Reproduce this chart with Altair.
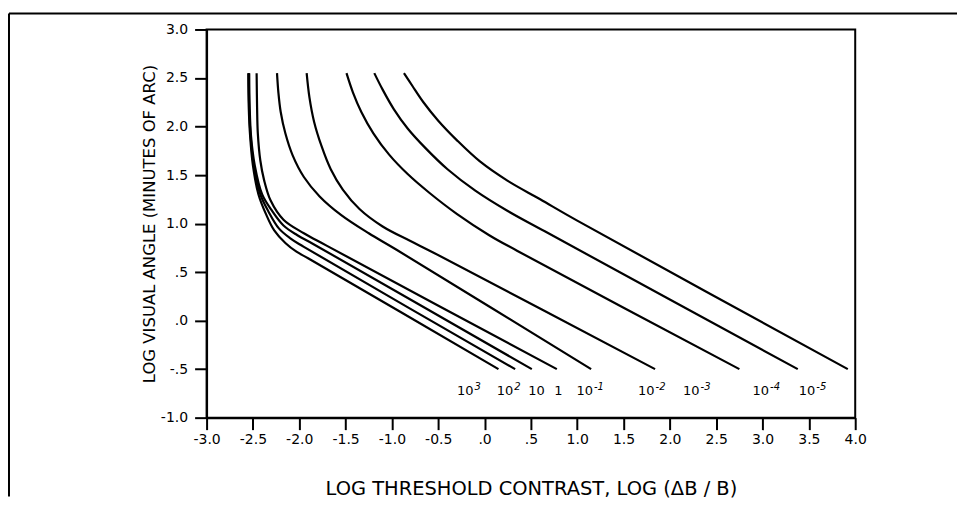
import altair as alt
import pandas as pd

curve_names = ["10^3", "10^2", "10", "1", "10^-1", "10^-2", "10^-3", "10^-4", "10^-5"]
label_base = ["10", "10", "10", "1", "10", "10", "10", "10", "10"]
label_exp = ["3", "2", "", "", "-1", "-2", "-3", "-4", "-5"]
label_x = [-0.12, 0.31, 0.65, 0.84, 1.17, 1.835, 2.32, 3.07, 3.57]
label_y = [-0.77, -0.77, -0.77, -0.77, -0.77, -0.77, -0.77, -0.77, -0.77]

c_1e3_x = [-2.55, -2.545, -2.53, -2.50, -2.44, -2.36, -2.27, -2.15, -2.03, -1.90, 0.15]
c_1e3_y = [2.55, 2.20, 1.90, 1.60, 1.30, 1.10, 0.93, 0.80, 0.71, 0.64, -0.50]

c_1e2_x = [-2.545, -2.54, -2.525, -2.49, -2.42, -2.33, -2.22, -2.10, -1.95, 0.33]
c_1e2_y = [2.55, 2.20, 1.90, 1.60, 1.30, 1.12, 0.95, 0.85, 0.76, -0.50]

c_1e1_x = [-2.54, -2.535, -2.52, -2.48, -2.40, -2.30, -2.17, -2.02, -1.85, 0.51]
c_1e1_y = [2.55, 2.20, 1.90, 1.60, 1.30, 1.14, 0.98, 0.88, 0.79, -0.50]

c_1e0_x = [-2.46, -2.455, -2.447, -2.42, -2.38, -2.31, -2.17, -1.95, -1.70, 0.78]
c_1e0_y = [2.55, 2.20, 1.93, 1.65, 1.45, 1.24, 1.04, 0.90, 0.77, -0.50]

c_1em1_x = [-2.24, -2.225, -2.20, -2.15, -2.07, -1.95, -1.78, -1.55, -1.25, -0.95, 1.15]
c_1em1_y = [2.55, 2.35, 2.15, 1.93, 1.70, 1.48, 1.28, 1.09, 0.90, 0.73, -0.50]

c_1em2_x = [-1.92, -1.89, -1.84, -1.76, -1.66, -1.53, -1.35, -1.10, -0.80, -0.55, 1.84]
c_1em2_y = [2.55, 2.30, 2.05, 1.80, 1.56, 1.35, 1.15, 0.97, 0.82, 0.70, -0.50]

c_1em3_x = [-1.49, -1.42, -1.33, -1.20, -1.03, -0.83, -0.60, -0.30, 0.05, 0.35, 2.75]
c_1em3_y = [2.55, 2.35, 2.15, 1.93, 1.71, 1.51, 1.32, 1.10, 0.88, 0.72, -0.50]

c_1em4_x = [-1.19, -1.10, -0.98, -0.83, -0.64, -0.40, -0.10, 0.25, 0.65, 3.38]
c_1em4_y = [2.55, 2.38, 2.18, 1.98, 1.78, 1.56, 1.34, 1.13, 0.92, -0.50]

c_1em5_x = [-0.87, -0.78, -0.66, -0.50, -0.30, -0.05, 0.25, 0.60, 1.00, 3.92]
c_1em5_y = [2.55, 2.42, 2.25, 2.06, 1.86, 1.64, 1.44, 1.25, 1.03, -0.50]

curves_x = [c_1e3_x, c_1e2_x, c_1e1_x, c_1e0_x, c_1em1_x, c_1em2_x, c_1em3_x, c_1em4_x, c_1em5_x]
curves_y = [c_1e3_y, c_1e2_y, c_1e1_y, c_1e0_y, c_1em1_y, c_1em2_y, c_1em3_y, c_1em4_y, c_1em5_y]

x_ticks = [-3.0, -2.5, -2.0, -1.5, -1.0, -0.5, 0.0, 0.5, 1.0, 1.5, 2.0, 2.5, 3.0, 3.5, 4.0]
y_ticks = [-1.0, -0.5, 0.0, 0.5, 1.0, 1.5, 2.0, 2.5, 3.0]

rows = []
for name, xs_, ys_ in zip(curve_names, curves_x, curves_y):
    for i, (xv, yv) in enumerate(zip(xs_, ys_)):
        rows.append({"curve": name, "i": i, "x": xv, "y": yv})
df = pd.DataFrame(rows)
lab = pd.DataFrame({"curve": curve_names, "base": label_base, "exp": label_exp,
                    "x": label_x, "y": label_y})

FONT = "DejaVu Sans"
xs = alt.Scale(domain=[-3, 4], nice=False, zero=False)
ys = alt.Scale(domain=[-1, 3], nice=False, zero=False)

x_axis = alt.Axis(
    values=x_ticks,
    labelExpr="datum.value == 0 ? '.0' : datum.value == 0.5 ? '.5' : (datum.value < 0 ? '-' : '') + format(abs(datum.value), '.1f')",
    title="LOG THRESHOLD CONTRAST, LOG (ΔB / B)",
    grid=False, tickSize=12, tickWidth=2, domainWidth=2, domainColor="black", tickColor="black",
    labelFont=FONT, labelFontSize=14, labelColor="black", labelPadding=3, labelFlush=False,
    titleFont=FONT, titleFontSize=19.5, titleFontWeight="normal", titleColor="black", titlePadding=33,
)
y_axis = alt.Axis(
    values=y_ticks,
    labelExpr="datum.value == 0 ? '.0' : datum.value == 0.5 ? '.5' : datum.value == -0.5 ? '-.5' : (datum.value < 0 ? '-' : '') + format(abs(datum.value), '.1f')",
    title="LOG VISUAL ANGLE (MINUTES OF ARC)",
    grid=False, tickSize=12, tickWidth=2, domainWidth=2, domainColor="black", tickColor="black",
    labelFont=FONT, labelFontSize=14, labelColor="black", labelPadding=7, labelFlush=False,
    titleFont=FONT, titleFontSize=16.5, titleFontWeight="normal", titleColor="black", titlePadding=3,
)

lines = alt.Chart(df).mark_line(color="black", strokeWidth=2.2, interpolate="catmull-rom").encode(
    x=alt.X("x:Q", scale=xs, axis=x_axis),
    y=alt.Y("y:Q", scale=ys, axis=y_axis),
    detail="curve:N",
    order="i:Q",
)

base_text = alt.Chart(lab).mark_text(font=FONT, fontSize=13, color="black",
                                     align="right", baseline="alphabetic").encode(
    x=alt.X("x:Q", scale=xs),
    y=alt.Y("y:Q", scale=ys),
    text="base:N",
)
exp_text = alt.Chart(lab).mark_text(font=FONT, fontSize=10, fontStyle="italic", color="black",
                                    align="left", baseline="alphabetic", dx=1, dy=-5).encode(
    x=alt.X("x:Q", scale=xs),
    y=alt.Y("y:Q", scale=ys),
    text="exp:N",
)

# outer page frame (decoration)
frame_top = alt.Chart(pd.DataFrame({"a": [0]})).mark_rule(color="black", strokeWidth=2).encode(
    x=alt.value(-198), x2=alt.value(752), y=alt.value(-16)
)
frame_left = alt.Chart(pd.DataFrame({"a": [0]})).mark_rule(color="black", strokeWidth=2).encode(
    x=alt.value(-198), y=alt.value(-16), y2=alt.value(468)
)

chart = alt.layer(lines, base_text, exp_text, frame_top, frame_left).properties(
    width=650, height=389, background="white",
    padding={"left": 0, "top": 4, "right": 0, "bottom": 0},
).configure_view(stroke="black", strokeWidth=2)

chart.save("out.html", embed_options={"renderer": "svg", "actions": False})
